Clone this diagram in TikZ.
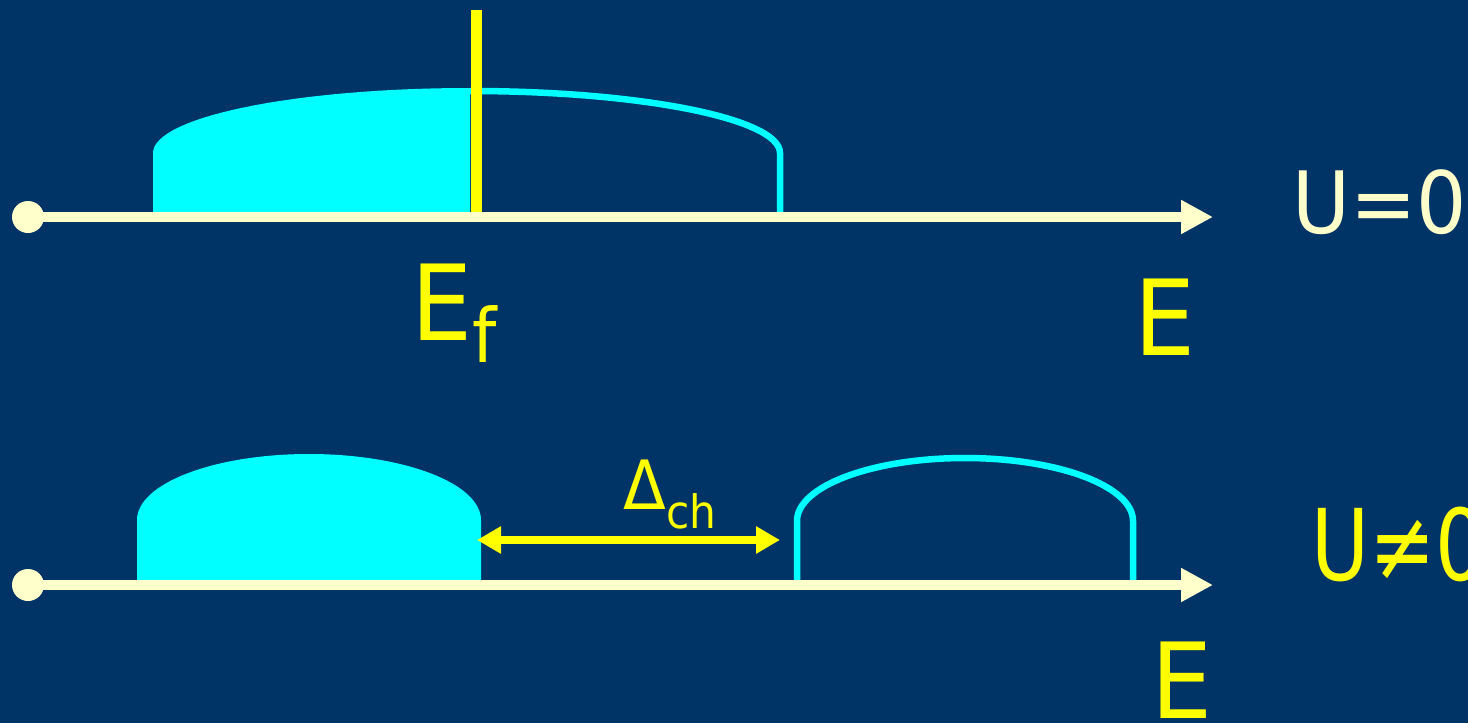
\documentclass[tikz,border=0pt]{standalone}
\usepackage{fontspec}
\setmainfont{DejaVu Sans}[FakeStretch=0.92]
\newfontfamily\narrowlbl{DejaVu Sans}[FakeStretch=0.8]
\usetikzlibrary{arrows.meta}

\definecolor{bgblue}{RGB}{0,51,102}
\definecolor{bandcyan}{RGB}{0,255,255}
\definecolor{fermiyel}{RGB}{255,255,0}
\definecolor{axcream}{RGB}{255,255,204}

\begin{document}
\begin{tikzpicture}[x=1pt,y=-1pt,
    axis/.style={line width=10pt,axcream,-{Triangle[length=32pt,width=32pt]}},
    band/.style={line width=6.5pt,draw=bandcyan},
    gaparrow/.style={line width=8pt,fermiyel,{Triangle[length=24pt,width=26pt]}-{Triangle[length=24pt,width=26pt]}},
    lbl/.style={inner sep=0pt,anchor=base west}]

\fill[bgblue] (0,0) rectangle (1468,723);
\useasboundingbox (0,0) rectangle (1468,723);

% U=0: filled band below the Fermi level
\fill[bandcyan] (153,217) -- (153,153)
    arc[start angle=180,end angle=270,x radius=317,y radius=65] -- (470,217) -- cycle;
\draw[band] (470,91)
    arc[start angle=270,end angle=360,x radius=310,y radius=62] -- (780,217);

\coordinate (EfTop) at (476,10);
\coordinate (EfBot) at (476,217);
\draw[line width=11pt,fermiyel] (EfTop) -- (EfBot);

\coordinate (O1) at (28,217);
\coordinate (A1) at (1213,217);
\draw[axis] (O1) -- (A1);
\fill[axcream] (O1) circle (16pt);

% U/=0: split bands
\fill[bandcyan] (137,585) -- (137,520)
    arc[start angle=180,end angle=360,x radius=172,y radius=66] -- (481,585) -- cycle;
\draw[band] (797,585) -- (797,521)
    arc[start angle=180,end angle=360,x radius=168,y radius=63] -- (1133,585);

\coordinate (GapL) at (477,540);
\coordinate (GapR) at (780,540);
\draw[gaparrow] (GapL) -- (GapR);

\coordinate (O2) at (28,585);
\coordinate (A2) at (1213,585);
\draw[axis] (O2) -- (A2);
\fill[axcream] (O2) circle (16pt);

% labels
\node[lbl,fermiyel,font=\fontsize{105}{105}\selectfont] (Ef) at (411,340)
    {E\raisebox{-22pt}{\fontsize{75}{75}\selectfont f}};
\node[lbl,fermiyel,font=\fontsize{105}{105}\selectfont] (Etop) at (1134,355) {E};
\node[lbl,fermiyel,font=\fontsize{105}{105}\selectfont] (Ebot) at (1151,718) {E};
\node[lbl,axcream,font=\fontsize{86}{86}\selectfont] (Uzero) at (1292,233) {U=0};
\node[lbl,fermiyel,font=\narrowlbl\fontsize{99}{99}\selectfont] (Unonzero) at (1311,580) {U≠0};
\node[lbl,fermiyel,font=\fontsize{68}{68}\selectfont] (Gap) at (623,509)
    {Δ\raisebox{-19pt}{\fontsize{46}{46}\selectfont ch}};

\end{tikzpicture}
\end{document}
